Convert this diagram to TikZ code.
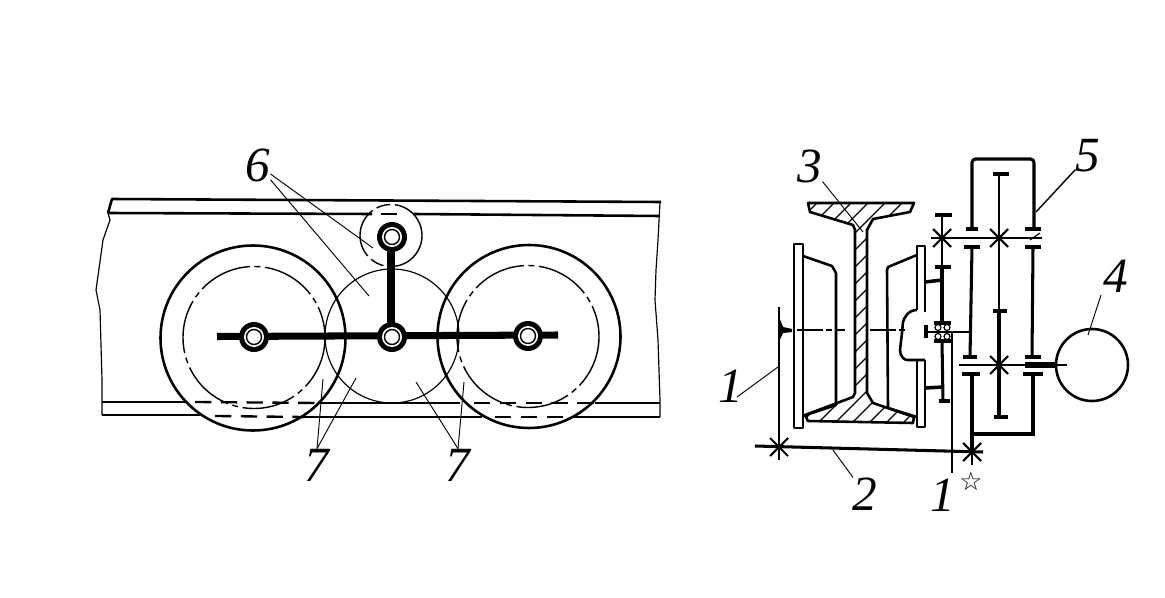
\documentclass[tikz,border=0pt]{standalone}
\usepackage{fontspec}
\setmainfont{Liberation Serif}
\newfontfamily\symbfont{DejaVu Sans}
\tikzset{
  numlabel/.style = {inner sep=0pt, font=\fontsize{42}{42}\selectfont\itshape},
  outline/.style = {line width=2.2pt, line join=round},
  thinline/.style = {line width=1pt},
  leader/.style = {line width=0.8pt},
  hidden/.style = {line width=2pt, dash pattern=on 14pt off 8pt},
  pitch/.style = {line width=1.2pt, dash pattern=on 46pt off 4pt on 5pt off 4pt},
  shaft/.style = {line width=1.6pt},
  wall/.style = {line width=2.6pt},
  capbar/.style = {line width=2.8pt},
  link/.style = {line width=6pt}
}
% joint on the link: black ring round a small open pin
\newcommand{\joint}[2]{
  \fill[black] (#1,#2) circle[radius=15];
  \fill[white] (#1,#2) circle[radius=10];
  \draw[line width=1.2pt] (#1,#2) circle[radius=7.5];
}
% shaft support mark
\newcommand{\gearstar}[2]{
  \draw[line width=1.8pt] (#1-9,#2-9) -- (#1+9,#2+9);
  \draw[line width=1.8pt] (#1-9,#2+9) -- (#1+9,#2-9);
  \draw[line width=1.8pt] (#1,#2-13) -- (#1,#2+13);
}
\begin{document}
\begin{tikzpicture}[x=0.3mm, y=-0.3mm]
\useasboundingbox (0,0) rectangle (1165,598);

% side view: beam
\draw[outline] (108,213) -- (112,199) -- (661,202);
\draw[outline] (108,213) -- (372,214);
\draw[outline] (414,214) -- (660,216);
\draw[hidden] (381,214) -- (404,214);
\draw[thinline] (108,213) -- (110,220) -- (103,240) -- (96,290) -- (100,310) -- (102,380) -- (102,415);
\draw[thinline] (660,202) -- (658,240) -- (656,270) -- (655,300) -- (658,340) -- (660,400) -- (660,417);
\draw[outline] (102,402) -- (186,402);
\draw[outline] (102,415) -- (200,415);
\draw[outline] (320,403) -- (460,403);
\draw[outline] (305,417) -- (482,417);
\draw[outline] (595,403) -- (660,403);
\draw[outline] (578,417) -- (660,417);
\draw[hidden] (195,402) -- (320,403);
\draw[hidden] (215,416) -- (305,417);
\draw[hidden] (474,403) -- (595,403);
\draw[hidden] (495,417) -- (578,417);

% side view: wheels
\draw[line width=2.2pt] (253,338) circle[radius=92.5];
\draw[line width=2.2pt] (529,336.5) circle[radius=91.5];
\draw[pitch] (254,337.5) circle[radius=71];
\draw[pitch] (528,336.5) circle[radius=71];
\draw[thinline] (392,336) circle[radius=67];
\draw[line width=1.2pt, dash pattern=on 44pt off 4pt on 12pt off 4pt] (391,235.5) circle[radius=31];

% side view: links and joints
\draw[link] (217,336.5) -- (558,335);
\draw[link] (391,237) -- (391,337);
\joint{254}{337}
\joint{392}{337}
\joint{392}{237}
\joint{528}{336}

% side view: labels
\path (258,165) node[numlabel] (six) {6};
\path (317,465) node[numlabel] (sevenL) {7};
\path (458,465) node[numlabel] (sevenR) {7};
\coordinate (sixA) at (373,248);
\coordinate (sixB) at (369,296);
\coordinate (sevenA) at (323,379);
\coordinate (sevenB) at (356,378);
\coordinate (sevenC) at (416,382);
\coordinate (sevenD) at (464,382);
\draw[leader] (six) -- (sixA);
\draw[leader] (six) -- (sixB);
\draw[leader] (sevenL.north) -- (sevenA);
\draw[leader] (sevenL.north) -- (sevenB);
\draw[leader] (sevenR.north) -- (sevenC);
\draw[leader] (sevenR.north) -- (sevenD);

% section: rail
\begin{scope}
\clip (808,203) -- (914,203) -- (910,212) -- (873,219) -- (867,230) -- (867,393) -- (873,403) -- (914,417) -- (913,423) -- (808,421) -- (805,415) -- (853,397) -- (855,393) -- (855,230) -- (853,225) -- (810,212) -- cycle;
\foreach \k in {0,...,30}
  \draw[line width=1pt] (800+\k*17,203) -- (800+\k*17-240,443);
\end{scope}
\draw[outline] (808,203) -- (914,203) -- (910,212) -- (873,219) -- (867,230) -- (867,393) -- (873,403) -- (914,417) -- (913,423) -- (808,421) -- (805,415) -- (853,397) -- (855,393) -- (855,230) -- (853,225) -- (810,212) -- cycle;

% section: wheels
\draw[outline] (794,244) rectangle (803,428);
\draw[outline] (803,256) -- (832,266) -- (836,273) -- (836,405) -- (803,416);
\draw[outline] (917,310) -- (917,246) -- (925,246) -- (925,312);
\draw[outline] (917,360) -- (917,427) -- (925,427) -- (925,360);
\draw[outline] (917,255) -- (888,267) -- (887,270) -- (888,408) -- (917,417);
\draw[outline] (917,310) .. controls (908,310) and (904,318) .. (903,322) -- (902,333) -- (900,350) .. controls (900,356) and (904,360) .. (907,360) -- (925,360);
\draw[line width=1.4pt, dash pattern=on 22pt off 3pt on 5pt off 3pt] (797,330) -- (845,330);
\draw[line width=1.4pt, dash pattern=on 22pt off 3pt on 5pt off 3pt] (870,330) -- (907,330);

% section: left axle with frame
\draw[line width=1.4pt] (779,307) -- (779,458);
\draw[line width=2.4pt] (779,316) -- (779,362);
\fill[black] (779,317) -- (783,327) -- (792,329) -- (792,332) -- (783,333) -- (779,342) -- cycle;
\draw[wall] (755,446) -- (983,452);
\gearstar{779}{447}

% section: wheel shaft, bearing
\draw[shaft] (942,215) -- (942,267);
\draw[capbar] (935,215) -- (952,215);
\draw[capbar] (935,267) -- (951,267);
\draw[line width=3pt] (942,267) -- (942,322);
\draw[wall] (942,342) -- (943,401);
\draw[capbar] (939,401) -- (950,401);
\draw[line width=3pt] (925,282) -- (942,280);
\draw[line width=3pt] (925,388) -- (943,387);
\draw[line width=3pt] (926,325) -- (926,338);
\draw[capbar] (934,323) -- (951,323);
\draw[capbar] (934,341) -- (952,341);
\draw[shaft] (926,332) -- (970,332);
\foreach \bx in {938,947} {
  \draw[thinline] (\bx,327.5) circle[radius=3];
  \draw[thinline] (\bx,336.5) circle[radius=3];
}
\draw[shaft] (952,333) -- (952,473);

% section: reduction gear
\draw[wall, rounded corners=3pt] (972,228) -- (972,159) -- (1034,159) -- (1034,228);
\draw[shaft] (931,238) -- (1042,238);
\draw[line width=2.4pt] (959,365) -- (1025,365);
\draw[line width=4.5pt] (1025,365) -- (1056,365);
\draw[shaft] (1056,365) -- (1067,365);
\foreach \capx/\capy/\capw in {972/229/6, 1033/229/8, 972/247/8, 1033/247/8, 970/357/7, 1033/357/8, 971/374/9, 1033/374/10, 1001/174/8, 1001/417/7, 1000/311/7}
  \draw[capbar] (\capx-\capw,\capy) -- (\capx+\capw,\capy);
\draw[wall] (972,247) -- (970,357);
\draw[wall] (1033,247) -- (1032,357);
\draw[wall] (972,374) -- (972,452);
\draw[wall] (1033,374) -- (1033,434) -- (972,434);
\draw[line width=2.2pt] (999,174) -- (999,311);
\draw[line width=3.2pt] (999,311) -- (999,417);
\draw[thinline] (1030,240) -- (1040,233);
\gearstar{942}{238}
\gearstar{999}{238}
\gearstar{999}{365}
\gearstar{972}{452}
\draw[outline] (1092,365) circle[radius=36];

% section: labels
\path (731,386) node[numlabel] (oneL) {1};
\path (865,494) node[numlabel] (two) {2};
\path (810,166) node[numlabel] (three) {3};
\path (1116,276) node[numlabel] (four) {4};
\path (1088,156) node[numlabel] (five) {5};
\path (943,495) node[numlabel] (oneR) {1};
\path (971,481) node[inner sep=0pt, font=\fontsize{22}{22}\selectfont\symbfont\bfseries] (starmark) {☆};
\coordinate (oneA) at (778,367);
\coordinate (twoA) at (833,450);
\coordinate (threeA) at (863,232);
\coordinate (fourA) at (1088,335);
\coordinate (fiveA) at (1036,212);
\coordinate (fourB) at (1101,295);
\draw[leader] (737,397) -- (oneA);
\draw[leader] (two) -- (twoA);
\draw[leader] (three) -- (threeA);
\draw[leader] (fourB) -- (fourA);
\draw[line width=1.2pt] (five) -- (fiveA);
\end{tikzpicture}
\end{document}
